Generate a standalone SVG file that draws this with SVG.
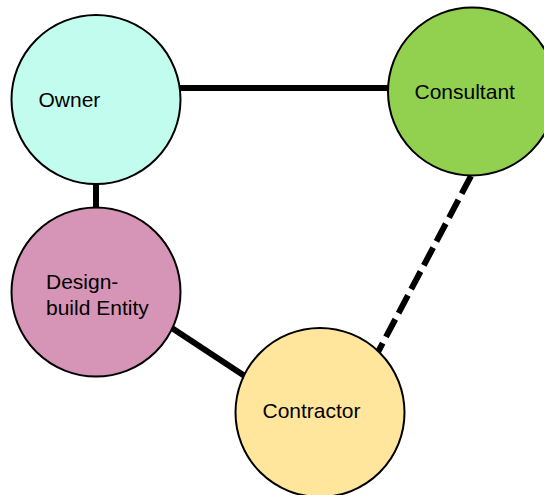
<svg xmlns="http://www.w3.org/2000/svg" width="544" height="495" viewBox="0 0 544 495">
<style>
.conn{stroke:#000;stroke-width:6;fill:none}
.dash{stroke-dasharray:20 7}
.node{stroke:#000;stroke-width:2}
.lbl{font-family:"Liberation Sans",Arial,sans-serif;font-size:21px;fill:#000}
</style>
<rect width="544" height="495" fill="#fff"/>
<g id="connectors">
<line class="conn" x1="170" y1="88" x2="400" y2="88"/>
<line class="conn" x1="96" y1="175" x2="96" y2="215"/>
<line class="conn" x1="165" y1="323.5" x2="250" y2="379.5"/>
<line class="conn dash" x1="471" y1="176" x2="378" y2="352"/>
</g>
<g id="owner">
<circle class="node" cx="96" cy="99.5" r="84.5" fill="#c2fcee"/>
<text class="lbl" x="38.5" y="106.5">Owner</text>
</g>
<g id="consultant">
<circle class="node" cx="472" cy="91.5" r="84" fill="#92d050"/>
<text class="lbl" x="414.5" y="98.5">Consultant</text>
</g>
<g id="design-build">
<circle class="node" cx="96" cy="292" r="84.5" fill="#d694b6"/>
<text class="lbl" x="46" y="289">Design-</text>
<text class="lbl" x="46" y="315">build Entity</text>
</g>
<g id="contractor">
<circle class="node" cx="320" cy="412.5" r="84.5" fill="#ffe69c"/>
<text class="lbl" x="262.5" y="417.5">Contractor</text>
</g>
</svg>
